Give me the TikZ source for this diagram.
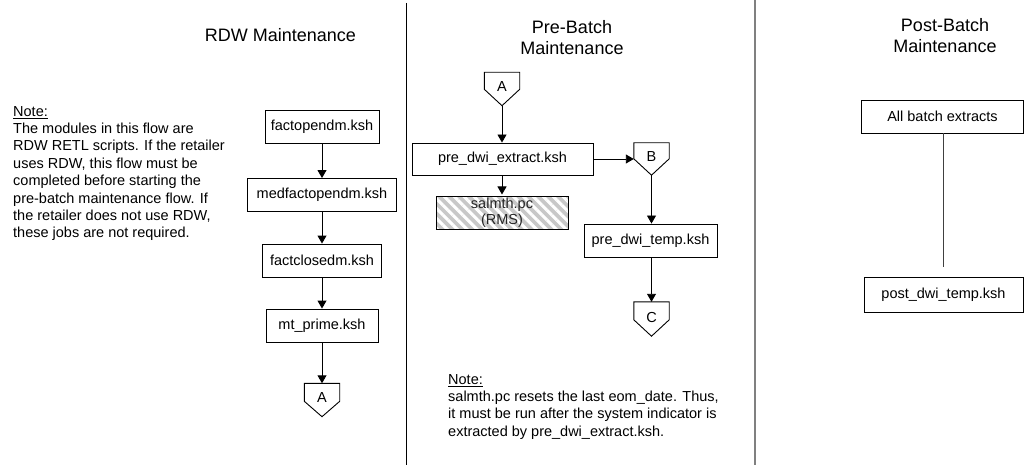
\documentclass[tikz,border=0pt]{standalone}
\usepackage{fontspec}
\setmainfont{Liberation Sans}
\usetikzlibrary{arrows.meta,patterns.meta,calc}
\definecolor{hatchgray}{HTML}{C8C8C8}
\definecolor{divgray}{HTML}{808080}
\begin{document}
\begin{tikzpicture}[x=1pt,y=-1pt,
  font=\fontsize{14.5}{17.4}\selectfont,
  box/.style={draw, line width=0.9pt, minimum height=33, inner sep=0, anchor=center},
  opc/.style={minimum width=35, minimum height=33, inner sep=0},
  opcline/.style={draw, line width=0.9pt},
  arr/.style={-{Triangle[width=9pt,length=8pt]}, line width=0.9pt},
  title/.style={font=\fontsize{18}{21}\selectfont, align=center},
  note/.style={align=left, anchor=north west, inner sep=0},
  hatch/.style={preaction={fill=hatchgray}, pattern={Lines[angle=-45,distance=7pt,line width=3pt]}, pattern color=white}
]
\useasboundingbox (0,0) rectangle (1025,465);

% dividers
\draw[line width=1pt] (406,3) -- (406,465);
\draw[line width=1.5pt, divgray] (755,0) -- (755,465);

% titles
\node[title] (t1) at (280.5,35) {RDW Maintenance};
\node[title] (t2) at (572,37.5) {Pre-Batch\\Maintenance};
\node[title] (t3) at (945,36) {Post-Batch\\Maintenance};

% left column
\node[note] (n1) at (13,106) {\underline{Note:}\\The modules in this flow are\\RDW RETL scripts. If the retailer\\uses RDW, this flow must be\\completed before starting the\\pre-batch maintenance flow. If\\the retailer does not use RDW,\\these jobs are not required.};

\node[box, minimum width=114] (f1) at (322,126.5) {factopendm.ksh};
\node[box, minimum width=149] (f2) at (322,195) {medfactopendm.ksh};
\node[box, minimum width=119] (f3) at (322,260.5) {factclosedm.ksh};
\node[box, minimum width=112] (f4) at (322,325.5) {mt\_prime.ksh};
\node[opc] (A1) at (322,400) {\raisebox{4pt}{A}};
\draw[opcline] (A1.north west) -- (A1.north east) -- ([yshift=-18pt]A1.north east) -- (A1.south) -- ([yshift=-18pt]A1.north west) -- cycle;

\draw[arr] (f1) -- (f2);
\draw[arr] (f2) -- (f3);
\draw[arr] (f3) -- (f4);
\draw[arr] (f4) -- (A1.north);

% middle column
\node[opc] (A2) at (502,89) {\raisebox{5pt}{A}};
\draw[opcline] (A2.north west) -- (A2.north east) -- ([yshift=-17pt]A2.north east) -- (A2.south) -- ([yshift=-17pt]A2.north west) -- cycle;
\node[box, minimum width=181, minimum height=32] (p1) at (502.5,159) {pre\_dwi\_extract.ksh};
\node[box, hatch, minimum width=132, align=center, text=black!85] (s1) at (502,212.5) {salmth.pc\\[-1.5pt](RMS)};
\node[opc, minimum height=32] (B) at (651.5,159) {\raisebox{4pt}{B}};
\draw[opcline] (B.north west) -- (B.north east) -- ([yshift=-16pt]B.north east) -- (B.south) -- ([yshift=-16pt]B.north west) -- cycle;
\node[box, minimum width=133] (p2) at (650.5,240.5) {pre\_dwi\_temp.ksh};
\node[opc, minimum height=34] (C) at (651.5,319) {\raisebox{4pt}{C}};
\draw[opcline] (C.north west) -- (C.north east) -- ([yshift=-18pt]C.north east) -- (C.south) -- ([yshift=-18pt]C.north west) -- cycle;

\draw[arr] (A2.south) -- (A2.south |- p1.north);
\draw[arr] (p1.south -| s1.north) -- (s1.north);
\draw[arr] (p1.east) -- (B.west);
\draw[arr] (B.south) -- (B.south |- p2.north);
\draw[arr] (C.north |- p2.south) -- (C.north);

\node[note] (n2) at (448,374) {\underline{Note:}\\salmth.pc resets the last eom\_date. Thus,\\it must be run after the system indicator is\\extracted by pre\_dwi\_extract.ksh.};

% right column
\node[box, minimum width=162] (ab) at (942.5,116.5) {All batch extracts};
\node[box, minimum width=159, minimum height=35] (pd) at (943.5,294.5) {post\_dwi\_temp.ksh};
\coordinate (le) at (943,267);
\draw[line width=0.9pt, black!75] (ab.south -| le) -- (le);
\end{tikzpicture}
\end{document}
